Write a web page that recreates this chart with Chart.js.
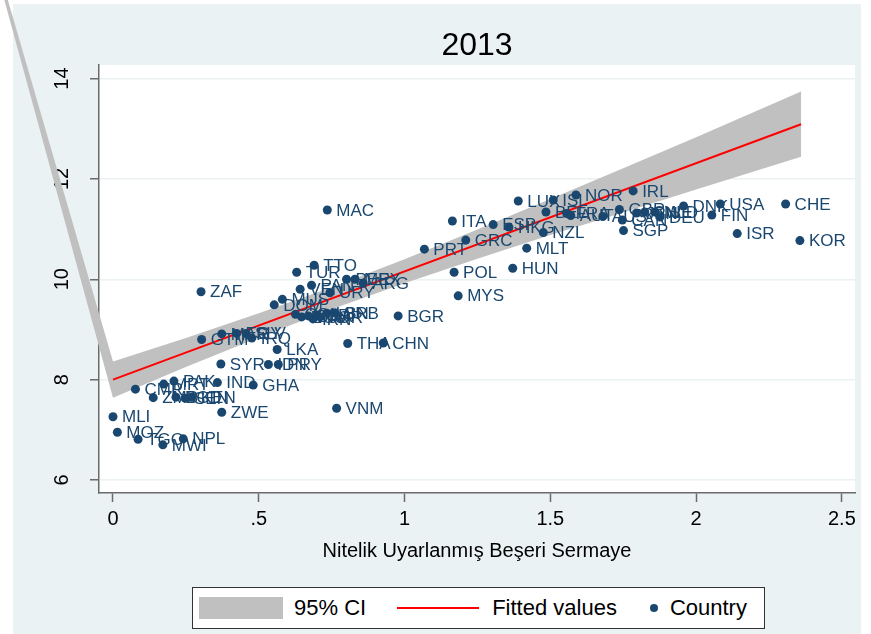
<!DOCTYPE html>
<html>
<head>
<meta charset="utf-8">
<title>2013</title>
<script src="https://cdn.jsdelivr.net/npm/chart.js@4.4.1/dist/chart.umd.min.js"></script>
<style>
	body {
		margin: 0;
		background: #fff;
		font-family: 'Liberation Sans', Arial, sans-serif;
	}
	#wrap {
		position: relative;
		width: 871px;
		height: 634px;
	}
	#legend {
		position: absolute;
		left: 192px;
		top: 587px;
		width: 571px;
		height: 40px;
		border: 1px solid #333;
		background: #fff;
		display: flex;
		align-items: center;
		font-size: 22px;
		color: #000;
	}
	#legend .sym { flex: none; }
	#legend .txt { white-space: nowrap; }
</style>
</head>
<body>
<div id="wrap">
	<canvas id="scatter" width="871" height="634"></canvas>
	<div id="legend"></div>
</div>
<script>
var navy = '#1a476f';
var ciGrey = '#c0c0c0';
var bluish = 'rgb(234,242,243)';

var countries = ['MLI','MOZ','TGO','MWI','NPL','CMR','ZMB','MRT','PAK','BGD','SEN','KEN','IND','GHA','ZWE',
	'SYR','IDN','PRY','LKA','GTM','MAR','EGY','SLV','IRQ','ZAF','DOM','MUS','TUR','TTO','VEN','PAN','URY',
	'PER','MEX','ARG','MAC','COL','ECU','BRA','CRI','IRN','JOR','LBN','SRB','BGR','THA','CHN','VNM',
	'PRT','ITA','POL','MYS','GRC','ESP','HKG','HUN','MLT','NZL','LUX','ISL','NOR','BEL','FRA','AUT',
	'AUS','IRL','GBR','CAN','JPN','SWE','NLD','DEU','SGP','DNK','USA','FIN','CHE','ISR','KOR'];

// nitelik uyarlanmis beseri sermaye
var humanCapital = [0.000,0.015,0.086,0.171,0.241,0.077,0.138,0.174,0.209,0.216,0.247,0.270,0.358,0.481,0.373,
	0.370,0.533,0.567,0.563,0.304,0.373,0.424,0.456,0.476,0.302,0.553,0.581,0.630,0.690,0.642,0.681,0.744,
	0.801,0.830,0.858,0.735,0.626,0.647,0.670,0.699,0.686,0.710,0.733,0.761,0.978,0.805,0.927,0.767,
	1.068,1.164,1.170,1.184,1.210,1.304,1.358,1.371,1.419,1.476,1.390,1.510,1.588,1.485,1.556,1.570,
	1.680,1.784,1.737,1.747,1.796,1.824,1.859,1.876,1.751,1.957,2.083,2.054,2.307,2.141,2.356];

var outcome = [7.26,6.95,6.81,6.70,6.82,7.81,7.64,7.91,7.97,7.65,7.63,7.65,7.94,7.89,7.35,
	8.31,8.30,8.30,8.60,8.80,8.91,8.92,8.92,8.83,9.75,9.49,9.60,10.14,10.28,9.80,9.88,9.73,
	10.00,10.00,9.92,11.38,9.30,9.25,9.27,9.29,9.21,9.25,9.32,9.33,9.27,8.72,8.73,7.43,
	10.60,11.16,10.14,9.67,10.78,11.09,11.04,10.22,10.62,10.93,11.56,11.58,11.68,11.34,11.31,11.27,
	11.25,11.76,11.39,11.18,11.32,11.34,11.34,11.24,10.97,11.46,11.50,11.28,11.50,10.91,10.77];

// fitted line ends
var fitX = [0, 2.36];
var fitY = [8.00, 13.09];

// 95% CI band
var ciX = [0, 0.25, 0.5, 0.75, 1, 1.25, 1.5, 1.75, 2, 2.36];
var ciLow = [7.64, 8.25, 8.84, 9.40, 9.92, 10.41, 10.88, 11.33, 11.79, 12.44];
var ciHigh = [8.36, 8.83, 9.32, 9.84, 10.40, 10.99, 11.60, 12.21, 12.83, 13.74];
// stray vertex the exported band starts from (off the plot, top left)
var ciStray = {x: -0.56, y: 19.55};

var xTicks = [0, 0.5, 1, 1.5, 2, 2.5];
var yTicks = [6, 8, 10, 12, 14];

var ciPolygon = [ciStray];
for (var i = 0; i < ciX.length; i++) {
	ciPolygon.push({x: ciX[i], y: ciHigh[i]});
}
for (var i = ciX.length - 1; i >= 0; i--) {
	ciPolygon.push({x: ciX[i], y: ciLow[i]});
}

var backgroundPlugin = {
	id: 'stataBackground',
	beforeDraw: function(chart) {
		var ctx = chart.ctx;
		var a = chart.chartArea;
		ctx.save();
		ctx.fillStyle = bluish;
		ctx.fillRect(13, 4, 848, 630);
		ctx.fillStyle = '#fff';
		ctx.fillRect(a.left, a.top, a.right - a.left, a.bottom - a.top);
		ctx.restore();
	}
};

// the band polygon, filled without clipping to the chart area
var bandPlugin = {
	id: 'ciBand',
	beforeDatasetsDraw: function(chart) {
		var meta = chart.getDatasetMeta(2);
		var ctx = chart.ctx;
		ctx.save();
		ctx.fillStyle = ciGrey;
		ctx.beginPath();
		meta.data.forEach(function(pt, i) {
			if (i === 0) ctx.moveTo(pt.x, pt.y);
			else ctx.lineTo(pt.x, pt.y);
		});
		ctx.closePath();
		ctx.fill();
		ctx.restore();
	}
};

var labelPlugin = {
	id: 'countryLabels',
	afterDatasetsDraw: function(chart) {
		var meta = chart.getDatasetMeta(0);
		var ctx = chart.ctx;
		ctx.save();
		ctx.fillStyle = navy;
		ctx.font = '17px "Liberation Sans", Arial, sans-serif';
		ctx.textBaseline = 'middle';
		ctx.textAlign = 'left';
		meta.data.forEach(function(pt, i) {
			ctx.fillText(countries[i], pt.x + 9, pt.y + 1);
		});
		ctx.restore();
	}
};

var axisColour = '#6b6b6b';
var fontFamily = '"Liberation Sans", Arial, sans-serif';

var config = {
	type: 'scatter',
	data: {
		datasets: [
			{
				label: 'Country',
				data: countries.map(function(c, i) { return {x: humanCapital[i], y: outcome[i]}; }),
				backgroundColor: navy,
				borderWidth: 0,
				pointRadius: 4.5,
				pointHoverRadius: 4.5,
			},
			{
				label: 'Fitted values',
				data: fitX.map(function(v, i) { return {x: v, y: fitY[i]}; }),
				showLine: true,
				borderColor: '#f00',
				borderWidth: 2,
				pointRadius: 0,
			},
			{
				label: '95% CI',
				data: ciPolygon,
				showLine: false,
				pointRadius: 0,
				backgroundColor: ciGrey,
			}
		]
	},
	options: {
		responsive: false,
		animation: false,
		events: [],
		layout: {
			padding: {left: 0, right: 16, top: 0, bottom: 61}
		},
		plugins: {
			legend: { display: false },
			tooltip: { enabled: false },
		},
		scales: {
			x: {
				type: 'linear',
				position: 'bottom',
				min: -0.048,
				max: 2.545,
				afterBuildTicks: function(scale) {
					scale.ticks = xTicks.map(function(v) { return {value: v}; });
				},
				afterFit: function(scale) {
					scale.height = 80;
				},
				ticks: {
					color: '#000',
					padding: 5,
					maxRotation: 0,
					font: { family: fontFamily, size: 20 },
					callback: function(v) {
						return v === 0 ? '0' : String(v).replace(/^0/, '');
					}
				},
				grid: {
					drawOnChartArea: false,
					tickLength: 9,
					tickColor: axisColour,
					tickWidth: 1.5,
				},
				border: { color: axisColour, width: 1.5 },
				title: {
					display: true,
					text: 'Nitelik Uyarlanmış Beşeri Sermaye',
					color: '#000',
					font: { family: fontFamily, size: 20 },
					padding: { top: 0, bottom: 10 }
				}
			},
			top: {
				type: 'linear',
				position: 'top',
				display: true,
				afterFit: function(scale) {
					scale.height = 65;
				},
				ticks: { display: false },
				grid: { display: false },
				border: { display: false },
				title: {
					display: true,
					text: '2013',
					color: '#000',
					font: { family: fontFamily, size: 32 },
					padding: { top: 27, bottom: 0 }
				}
			},
			y: {
				type: 'linear',
				min: 5.74,
				max: 14.27,
				afterBuildTicks: function(scale) {
					scale.ticks = yTicks.map(function(v) { return {value: v}; });
				},
				afterFit: function(scale) {
					scale.width = 99;
				},
				ticks: {
					color: '#000',
					minRotation: 90,
					maxRotation: 90,
					crossAlign: 'center',
					padding: 16,
					font: { family: fontFamily, size: 20 },
				},
				grid: {
					color: bluish,
					lineWidth: 1.5,
					tickLength: 9,
					tickColor: axisColour,
					tickWidth: 1.5,
				},
				border: { color: axisColour, width: 1.5 }
			}
		}
	},
	plugins: [backgroundPlugin, bandPlugin, labelPlugin]
};

const scatterChart = new Chart(document.getElementById('scatter'), config);

buildLegend();

function buildLegend() {
	var keys = [
		{ dataset: 2, gap: 6, textGap: 11, symbol: 'width:84px;height:22px;background:' + ciGrey },
		{ dataset: 1, gap: 31, textGap: 13, symbol: 'width:82px;height:2px;background:#f00' },
		{ dataset: 0, gap: 33, textGap: 12, symbol: 'width:8px;height:8px;border-radius:50%;background:' + navy },
	];
	var legend = document.getElementById('legend');
	keys.forEach(function(key) {
		var sym = document.createElement('span');
		sym.className = 'sym';
		sym.style.cssText = key.symbol + ';margin-left:' + key.gap + 'px';
		var txt = document.createElement('span');
		txt.className = 'txt';
		txt.style.marginLeft = key.textGap + 'px';
		txt.textContent = scatterChart.data.datasets[key.dataset].label;
		legend.appendChild(sym);
		legend.appendChild(txt);
	});
}
</script>
</body>
</html>
